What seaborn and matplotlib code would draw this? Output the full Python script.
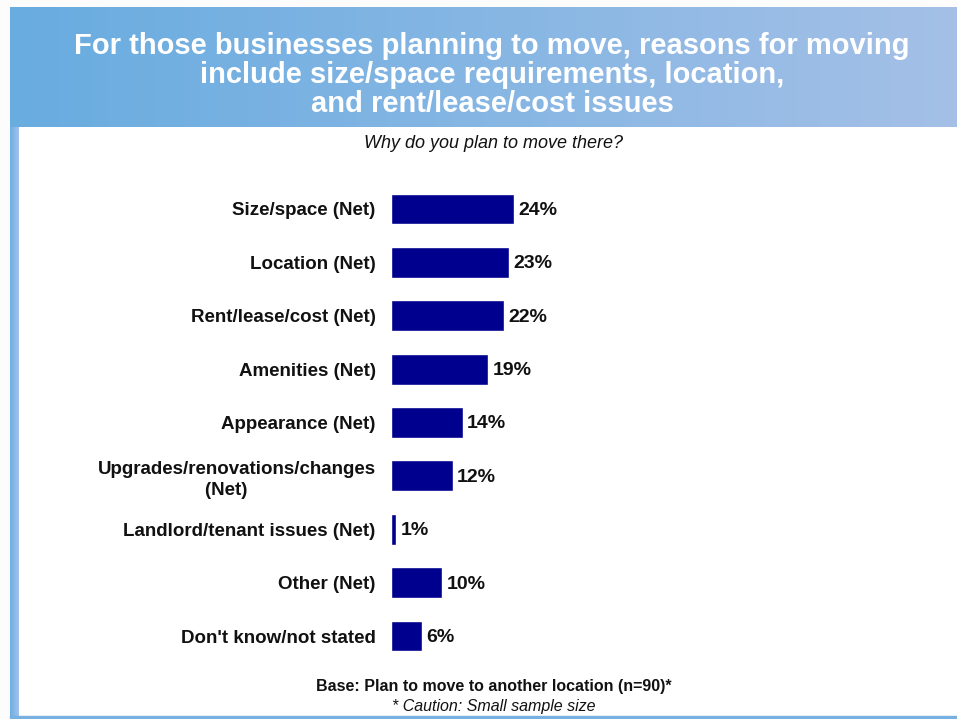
import numpy as np
import pandas as pd
import matplotlib
matplotlib.use("Agg")
import matplotlib.pyplot as plt
from matplotlib.colors import LinearSegmentedColormap
import seaborn as sns

categories = [
    "Size/space (Net)",
    "Location (Net)",
    "Rent/lease/cost (Net)",
    "Amenities (Net)",
    "Appearance (Net)",
    "Upgrades/renovations/changes\n(Net)    ",
    "Landlord/tenant issues (Net)",
    "Other (Net)",
    "Don't know/not stated",
]
values = [24, 23, 22, 19, 14, 12, 1, 10, 6]

title = ("For those businesses planning to move, reasons for moving\n"
         "include size/space requirements, location,\n"
         "and rent/lease/cost issues")
question = "Why do you plan to move there?"
base_note = "Base: Plan to move to another location (n=90)*"
caution = "* Caution: Small sample size"

sns.set_theme(style="white")
plt.rcParams["font.family"] = ["Liberation Sans", "DejaVu Sans"]

W, H = 957, 719
fig = plt.figure(figsize=(W / 100, H / 100), dpi=100)
fig.patch.set_facecolor("#fcfcfc")

# background layer for banner and frame
bg = fig.add_axes([0, 0, 1, 1], zorder=0)
bg.set_xlim(0, W)
bg.set_ylim(H, 0)
bg.axis("off")
bg.add_patch(plt.Rectangle((19, 127), W - 19, 590, color="white", zorder=0))

banner_cmap = LinearSegmentedColormap.from_list("banner", ["#68ace0", "#a4c0e7"])
grad = np.linspace(0, 1, 256).reshape(1, -1)
bg.imshow(grad, cmap=banner_cmap, extent=(10, W, 127, 7), aspect="auto", zorder=1)

side_cmap = LinearSegmentedColormap.from_list("side", ["#6eaee2", "#a2c2ea"])
bg.imshow(grad, cmap=side_cmap, extent=(10, 19, 717, 127), aspect="auto", zorder=1)
bg.add_patch(plt.Rectangle((10, 716), W - 10, 2, color="#78b0e2", zorder=1))

bg.text(492, 75, title, color="white", fontsize=21, fontweight="bold",
        ha="center", va="center", linespacing=1.06, zorder=2)
bg.text(494, 143, question, fontsize=13, style="italic", ha="center", va="center",
        color="#111111", zorder=2)
bg.text(494, 686, base_note, fontsize=11.5, fontweight="bold", ha="center",
        va="center", color="#111111", zorder=2)
bg.text(494, 706, caution, fontsize=11.5, style="italic", ha="center",
        va="center", color="#111111", zorder=2)

# bar chart
df = pd.DataFrame({"reason": categories, "pct": values})
left_px, right_px = 391, 903.5
top_px, bottom_px = 182.3, 662.7
ax = fig.add_axes([left_px / W, 1 - bottom_px / H,
                   (right_px - left_px) / W, (bottom_px - top_px) / H], zorder=1)
ax.patch.set_alpha(0)
sns.barplot(data=df, x="pct", y="reason", orient="h", color="#00008f",
            saturation=1, width=0.58, ax=ax)
ax.set_xlim(0, 100)
ax.set_ylim(len(categories) - 0.5, -0.5)
ax.set_xlabel("")
ax.set_ylabel("")
ax.set_xticks([])
for s in ax.spines.values():
    s.set_visible(False)
ax.tick_params(axis="y", length=0, pad=11)
for lab in ax.get_yticklabels():
    lab.set_fontweight("bold")
    lab.set_fontsize(13.5)
    lab.set_color("#111111")
    lab.set_multialignment("center")
    lab.set_linespacing(1.3)

for i, v in enumerate(values):
    ax.annotate(f"{v}%", (v, i), xytext=(3, -1), textcoords="offset points",
                ha="left", va="center", fontsize=14, fontweight="bold",
                color="#111111")

fig.savefig("out.png", dpi=100, facecolor=fig.get_facecolor())
